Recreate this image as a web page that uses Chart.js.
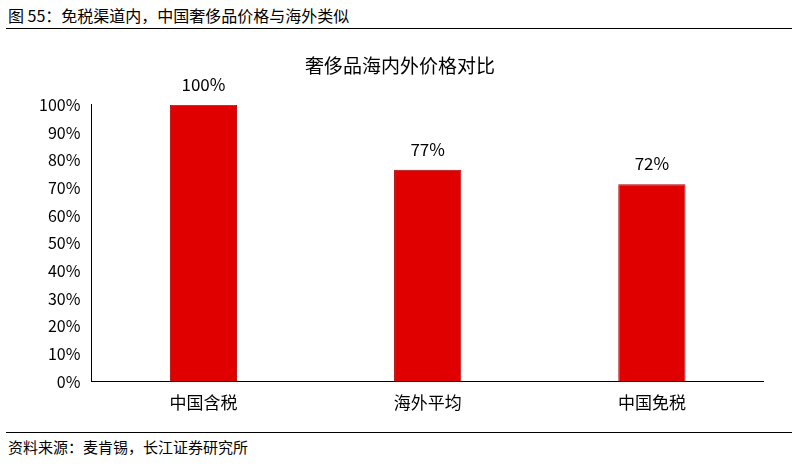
<!DOCTYPE html>
<html><head><meta charset="utf-8">
<script src="https://cdn.jsdelivr.net/npm/chart.js@4"></script>
<style>
body{margin:0;width:800px;height:468px;background:#fff;font-family:"Noto Sans CJK SC",sans-serif;position:relative;overflow:hidden}
#hd{position:absolute;left:8px;top:3px;font-size:16px;color:#000}
#l1{position:absolute;left:6px;right:8px;top:28px;border-top:1.5px solid #000}
#l2{position:absolute;left:6px;right:8px;top:432px;border-top:1px solid #000}
#ft{position:absolute;left:8px;top:436px;font-size:15px;color:#000}
#wrap{position:absolute;left:36px;top:40px;width:728px;height:390px}
</style></head><body>
<div id="hd">图 55：免税渠道内，中国奢侈品价格与海外类似</div>
<div id="l1"></div>
<div id="wrap"><canvas id="c"></canvas></div>
<div id="l2"></div>
<div id="ft">资料来源：麦肯锡，长江证券研究所</div>
<script>
const categories=["中国含税","海外平均","中国免税"];
const values=[100,76.5,71.3];
const valueLabels=["100%","77%","72%"];
const title="奢侈品海内外价格对比";
const F='"Noto Sans CJK SC",sans-serif';
const lbl={id:'lbl',afterDatasetsDraw(ch){const c=ch.ctx;const m=ch.getDatasetMeta(0);c.save();c.font='17px '+F;c.fillStyle='#000';c.textAlign='center';
m.data.forEach((b,i)=>c.fillText(valueLabels[i],b.x,b.y-14));c.restore();}};
new Chart(document.getElementById('c'),{type:'bar',
data:{labels:categories,datasets:[{data:values,backgroundColor:'#e00000',borderColor:'#b00000',borderWidth:1,barPercentage:0.3,categoryPercentage:1}]},
options:{responsive:true,maintainAspectRatio:false,animation:false,
layout:{padding:{left:0,right:0,top:0,bottom:14}},
plugins:{legend:{display:false},tooltip:{enabled:false},title:{display:true,text:title,font:{family:F,size:19,weight:'normal'},color:'#000',padding:{top:14,bottom:28}}},
scales:{y:{min:0,max:100,ticks:{stepSize:10,callback:v=>v+'%',color:'#000',font:{family:F,size:16}},grid:{display:false},border:{color:'#000'}},
x:{ticks:{color:'#000',font:{family:F,size:17}},grid:{display:false},border:{color:'#000'}}}},
plugins:[lbl]});
</script></body></html>
